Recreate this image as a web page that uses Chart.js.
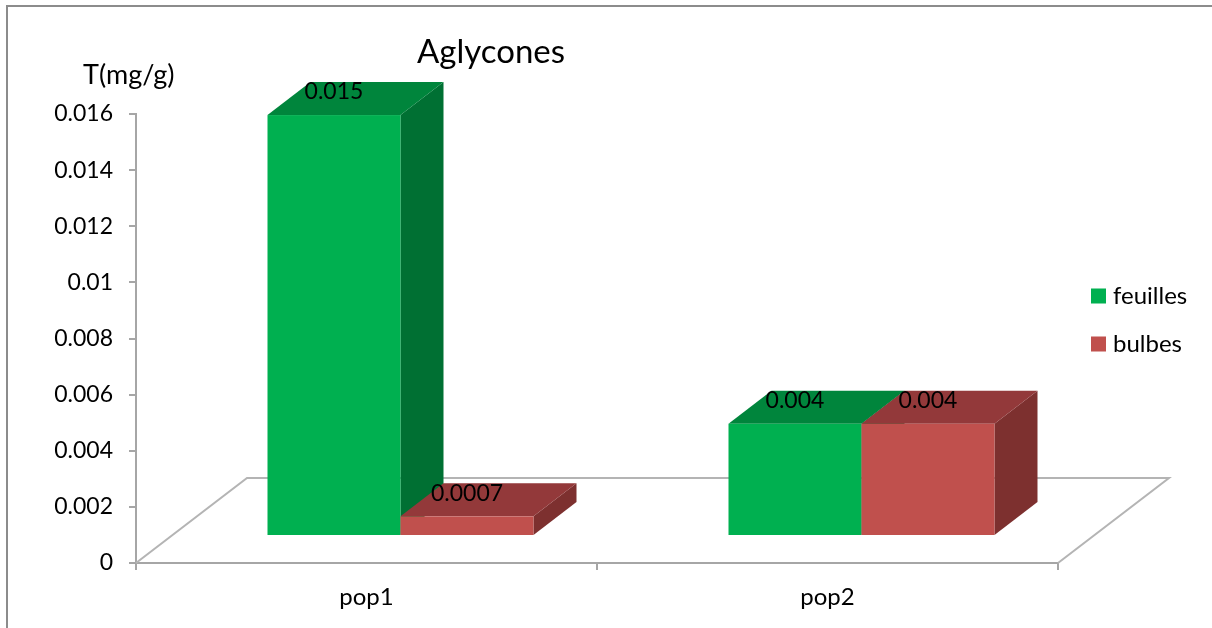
<!DOCTYPE html>
<html>
<head>
<meta charset="utf-8">
<title>Aglycones</title>
<script src="https://cdn.jsdelivr.net/npm/chart.js@4.4.1/dist/chart.umd.min.js"></script>
<style>
  html, body { margin: 0; padding: 0; background: #ffffff; }
  #wrap { width: 1212px; height: 628px; position: relative; }
</style>
</head>
<body>
<div id="wrap"><canvas id="chart" width="1212" height="628"></canvas></div>
<script>
// ---- data ----
const categories = ['pop1', 'pop2'];
const seriesNames = ['feuilles', 'bulbes'];
const feuilles = [0.015, 0.004];
const bulbes = [0.0007, 0.004];
const feuillesLabels = ['0.015', '0.004'];
const bulbesLabels = ['0.0007', '0.004'];
const yTickValues = [0, 0.002, 0.004, 0.006, 0.008, 0.01, 0.012, 0.014, 0.016];
const yTickLabels = ['0', '0.002', '0.004', '0.006', '0.008', '0.01', '0.012', '0.014', '0.016'];
const chartTitle = 'Aglycones';
const yUnit = 'T(mg/g)';

// ---- styling ----
const FONT = 'Lato';
const AXIS_GREY = '#a6a6a6';
const faceColours = [
  { front: '#00b050', top: '#00853c', side: '#007033' },
  { front: '#c0504d', top: '#93393a', side: '#7d302f' }
];
// oblique projection offsets for the 3-D look
const SHIFT = { x: 34, y: -27 };   // bars sit this far behind the front floor edge
const DEPTH = { x: 43, y: -33 };   // depth of each bar
const FLOOR = { x: 111, y: -85 };  // depth of the floor

// outer frame of the chart picture
const framePlugin = {
  id: 'frame',
  beforeDraw(chart) {
    const ctx = chart.ctx;
    ctx.save();
    ctx.fillStyle = '#ffffff';
    ctx.fillRect(0, 0, chart.width, chart.height);
    ctx.strokeStyle = '#8c8c8c';
    ctx.lineWidth = 2;
    ctx.beginPath();
    ctx.moveTo(7, chart.height + 5);
    ctx.lineTo(7, 6);
    ctx.lineTo(chart.width + 5, 6);
    ctx.stroke();
    ctx.restore();
  }
};

// floor plane + extruded bars drawn from the bar elements' scale positions
const bars3dPlugin = {
  id: 'bars3d',
  beforeDatasetsDraw(chart) {
    const { ctx, chartArea: a } = chart;
    ctx.save();
    ctx.strokeStyle = '#b4b4b4';
    ctx.lineWidth = 2;
    ctx.beginPath();
    ctx.moveTo(a.left, a.bottom);
    ctx.lineTo(a.left + FLOOR.x, a.bottom + FLOOR.y);
    ctx.lineTo(a.right + FLOOR.x, a.bottom + FLOOR.y);
    ctx.lineTo(a.right, a.bottom);
    ctx.stroke();

    const boxes = [];
    chart.data.datasets.forEach((ds, di) => {
      chart.getDatasetMeta(di).data.forEach(el => {
        boxes.push({ p: el.getProps(['x', 'y', 'base', 'width'], true), face: faceColours[di] });
      });
    });
    boxes.sort((m, n) => m.p.x - n.p.x);
    boxes.forEach(({ p, face }) => {
      const l = p.x - p.width / 2 + SHIFT.x;
      const r = p.x + p.width / 2 + SHIFT.x;
      const t = p.y + SHIFT.y;
      const b = p.base + SHIFT.y;
      ctx.fillStyle = face.side;
      ctx.beginPath();
      ctx.moveTo(r, b);
      ctx.lineTo(r + DEPTH.x, b + DEPTH.y);
      ctx.lineTo(r + DEPTH.x, t + DEPTH.y);
      ctx.lineTo(r, t);
      ctx.closePath();
      ctx.fill();
      ctx.fillStyle = face.top;
      ctx.beginPath();
      ctx.moveTo(l, t);
      ctx.lineTo(l + DEPTH.x, t + DEPTH.y);
      ctx.lineTo(r + DEPTH.x, t + DEPTH.y);
      ctx.lineTo(r, t);
      ctx.closePath();
      ctx.fill();
      ctx.fillStyle = face.front;
      ctx.fillRect(l, t, r - l, b - t);
    });
    ctx.restore();
    return false;
  }
};

// value labels, title, unit label and legend
const textPlugin = {
  id: 'texts',
  afterDraw(chart) {
    const ctx = chart.ctx;
    const labelSets = [feuillesLabels, bulbesLabels];
    ctx.save();
    ctx.fillStyle = '#000000';
    ctx.font = '23px ' + FONT;
    ctx.textAlign = 'center';
    ctx.textBaseline = 'middle';
    chart.data.datasets.forEach((ds, di) => {
      chart.getDatasetMeta(di).data.forEach((el, i) => {
        const p = el.getProps(['x', 'y'], true);
        ctx.fillText(labelSets[di][i], p.x + SHIFT.x, p.y + SHIFT.y - 23);
      });
    });

    ctx.textBaseline = 'alphabetic';
    ctx.textAlign = 'center';
    ctx.font = '33px ' + FONT;
    ctx.fillText(chartTitle, 491, 63);
    ctx.textAlign = 'left';
    ctx.font = '27px ' + FONT;
    ctx.fillText(yUnit, 83, 84);

    ctx.font = '24px ' + FONT;
    ctx.textBaseline = 'middle';
    chart.data.datasets.forEach((ds, di) => {
      const cy = 296 + di * 48;
      ctx.fillStyle = faceColours[di].front;
      ctx.fillRect(1091, cy - 7.5, 15, 15);
      ctx.fillStyle = '#000000';
      ctx.fillText(ds.label, 1113, cy);
    });
    ctx.restore();
  }
};

Chart.defaults.font.family = FONT;
Chart.defaults.color = '#000000';

new Chart(document.getElementById('chart'), {
  type: 'bar',
  data: {
    labels: categories,
    datasets: [
      { label: seriesNames[0], data: feuilles, backgroundColor: faceColours[0].front },
      { label: seriesNames[1], data: bulbes, backgroundColor: faceColours[1].front }
    ]
  },
  options: {
    responsive: false,
    animation: false,
    events: [],
    layout: { padding: { top: 114, right: 154, bottom: 0, left: 0 } },
    datasets: { bar: { categoryPercentage: 0.577, barPercentage: 1 } },
    plugins: {
      legend: { display: false },
      title: { display: false },
      tooltip: { enabled: false }
    },
    scales: {
      x: {
        offset: true,
        grid: { display: true, offset: true, drawOnChartArea: false, drawTicks: true, tickLength: 7, color: AXIS_GREY, lineWidth: 2 },
        border: { display: true, color: AXIS_GREY, width: 2 },
        ticks: { font: { size: 24 }, padding: 13, maxRotation: 0 },
        afterFit(scale) { scale.height = 65; }
      },
      y: {
        min: 0,
        max: 0.016,
        afterBuildTicks(scale) { scale.ticks = yTickValues.map(v => ({ value: v })); },
        grid: { display: true, drawOnChartArea: false, drawTicks: true, tickLength: 7, color: AXIS_GREY, lineWidth: 2 },
        border: { display: true, color: AXIS_GREY, width: 2 },
        ticks: {
          font: { size: 23 },
          padding: 16,
          callback: (v, i) => yTickLabels[i]
        },
        afterFit(scale) { scale.width = 136; }
      }
    }
  },
  plugins: [framePlugin, bars3dPlugin, textPlugin]
});
</script>
</body>
</html>
